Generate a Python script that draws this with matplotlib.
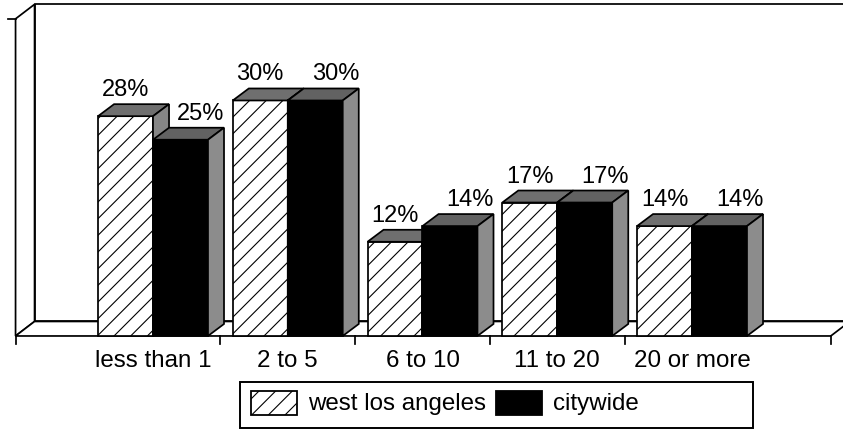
import matplotlib
matplotlib.use("Agg")
import matplotlib.pyplot as plt
from matplotlib.patches import Polygon, Rectangle

plt.rcParams['font.family'] = ['Liberation Sans', 'DejaVu Sans']
plt.rcParams['hatch.linewidth'] = 0.8

# years lived in the area, share of respondents (%)
categories = ['less than 1', '2 to 5', '6 to 10', '11 to 20', '20 or more']
west_la = [28, 30, 12, 17, 14]
citywide = [25, 30, 14, 17, 14]
series_names = ['west los angeles', 'citywide']

Y_MAX = 40.4        # top of the walls
BAR_W = 0.408       # width of one bar, in category units
BAR_DX, BAR_DY = 0.119, 1.53     # bar depth offset
WALL_DX, WALL_DY = 0.141, 1.85   # floor / wall depth offset
X_LEFT, X_RIGHT = -1.02, 5.03    # front edge of the floor

fig = plt.figure(figsize=(8.43, 4.29), dpi=100)
ax = fig.add_axes([0, 0, 1, 1])
ax.set_xlim(-1.1354, 5.1206)
ax.set_ylim(-11.85, 42.80)
ax.axis('off')

LW = 1.25


def poly(pts, fc, hatch=None, z=2):
    ax.add_patch(Polygon(pts, closed=True, facecolor=fc, edgecolor='black',
                         linewidth=LW, hatch=hatch, zorder=z, joinstyle='miter'))


# back wall, left wall and floor
poly([(X_LEFT + WALL_DX, WALL_DY), (X_RIGHT + WALL_DX, WALL_DY),
      (X_RIGHT + WALL_DX, Y_MAX + WALL_DY), (X_LEFT + WALL_DX, Y_MAX + WALL_DY)], 'white', z=1)
poly([(X_LEFT, 0), (X_LEFT + WALL_DX, WALL_DY),
      (X_LEFT + WALL_DX, Y_MAX + WALL_DY), (X_LEFT, Y_MAX)], 'white', z=1)
poly([(X_LEFT, 0), (X_RIGHT, 0), (X_RIGHT + WALL_DX, WALL_DY),
      (X_LEFT + WALL_DX, WALL_DY)], 'white', z=1)

# axis ticks
tick_len = 1.0
for t in [X_LEFT, 0.5, 1.5, 2.5, 3.5, X_RIGHT]:
    ax.plot([t, t], [0, -tick_len], color='black', lw=LW, zorder=5)
ax.plot([X_LEFT - 0.055, X_LEFT], [Y_MAX, Y_MAX], color='black', lw=LW, zorder=5)


def bar3d(x, v, front_fc, top_fc, side_fc, hatch=None):
    poly([(x, 0), (x + BAR_W, 0), (x + BAR_W, v), (x, v)], front_fc, hatch=hatch, z=3)
    poly([(x, v), (x + BAR_W, v), (x + BAR_W + BAR_DX, v + BAR_DY), (x + BAR_DX, v + BAR_DY)],
         top_fc, z=3)
    poly([(x + BAR_W, 0), (x + BAR_W + BAR_DX, BAR_DY), (x + BAR_W + BAR_DX, v + BAR_DY),
          (x + BAR_W, v)], side_fc, z=3)


for i, (w, c) in enumerate(zip(west_la, citywide)):
    bar3d(i - BAR_W, w, 'white', '#6f6f6f', '#868686', hatch='//')
    bar3d(i, c, 'black', '#626262', '#8c8c8c')
    ax.text(i - BAR_W / 2, w + 2.55, f'{w}%', ha='center', va='baseline',
            fontsize=17, zorder=6)
    ax.text(i + BAR_W / 2 + 0.15, c + 2.55, f'{c}%', ha='center', va='baseline',
            fontsize=17, zorder=6)
    ax.text(i, -3.95, categories[i], ha='center', va='baseline', fontsize=17.4, zorder=6)

# legend box, drawn in figure pixels
W, H = 843, 429


def px(x, y):
    return x / W, 1 - y / H


tf = fig.transFigure
x0, y0 = px(240, 428)
x1, y1 = px(753, 382)
fig.add_artist(Rectangle((x0, y0), x1 - x0, y1 - y0, transform=tf, facecolor='white',
                         edgecolor='black', linewidth=1.4))
for (sx, tx), fc, hatch, name in zip([(251, 308), (496, 553)], ['white', 'black'],
                                     ['//', None], series_names):
    a0, b0 = px(sx, 415)
    a1, b1 = px(sx + 46, 391)
    fig.add_artist(Rectangle((a0, b0), a1 - a0, b1 - b0, transform=tf, facecolor=fc,
                             edgecolor='black', linewidth=1.3, hatch=hatch))
    tx_, ty_ = px(tx, 404)
    fig.text(tx_, ty_, name, ha='left', va='center', fontsize=17.4)

fig.savefig('out.png', dpi=100)
